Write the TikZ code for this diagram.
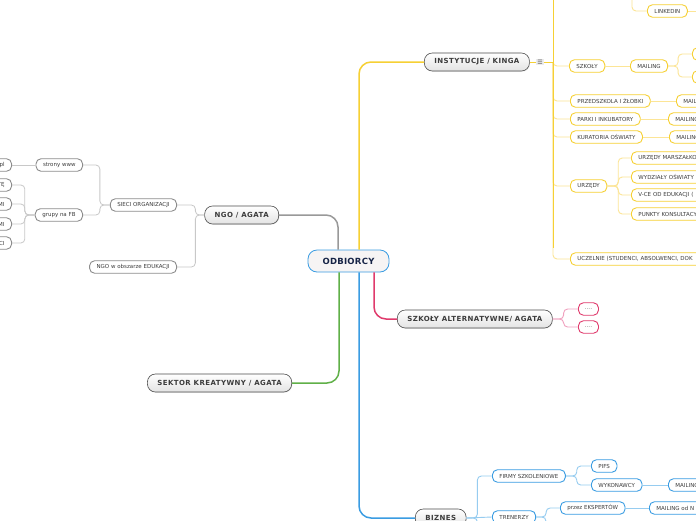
\documentclass[tikz,border=0pt]{standalone}
\usepackage{fontspec}
\setmainfont{DejaVu Sans}
\newfontfamily\topicfont[LetterSpace=6]{DejaVu Sans}
\newfontfamily\rootfont[LetterSpace=3]{DejaVu Sans}
\usetikzlibrary{positioning, shapes, shadows}

\definecolor{yelB}{RGB}{246,208,52}
\definecolor{yelL}{RGB}{252,229,150}
\definecolor{bluB}{RGB}{58,156,226}
\definecolor{bluL}{RGB}{150,204,240}
\definecolor{pinB}{RGB}{224,58,108}
\definecolor{pinL}{RGB}{240,160,190}
\definecolor{grnB}{RGB}{96,176,72}
\definecolor{gryB}{RGB}{140,140,140}
\definecolor{gryL}{RGB}{200,200,200}
\definecolor{txt}{RGB}{60,60,60}
\definecolor{navy}{RGB}{22,36,70}

\tikzset{
  root/.style={draw=bluB, line width=0.8pt, fill={rgb,255:red,246;green,244;blue,244},
    rounded corners=9pt, minimum height=22pt, minimum width=81pt, text=navy,
    font=\rootfont\fontsize{8.5}{10}\selectfont\bfseries},
  topic/.style={draw=gray!60!black, line width=0.6pt, top color=white, bottom color=gray!22,
    rounded corners=8pt, minimum height=18pt, inner xsep=10pt, text=txt,
    font=\topicfont\fontsize{7}{8}\selectfont\bfseries,
    drop shadow={opacity=0.15, shadow xshift=0.6pt, shadow yshift=-0.8pt}},
  leaf/.style={draw=#1, fill=white, line width=0.9pt, rounded corners=5pt,
    minimum height=12.5pt, inner xsep=7pt, inner ysep=1pt, text=txt,
    font=\fontsize{5.5}{6.5}\selectfont},
  cutR/.style={text width=#1, align=left},
  cutL/.style={text width=#1, align=right},
  brY/.style={draw=yelB, line width=1.5pt, rounded corners=12pt},
  brB/.style={draw=bluB, line width=1.5pt, rounded corners=12pt},
  brP/.style={draw=pinB, line width=1.5pt, rounded corners=12pt},
  brG/.style={draw=grnB, line width=1.5pt, rounded corners=12pt},
  brK/.style={draw=gray!80, line width=1.5pt, rounded corners=12pt},
  lnY/.style={draw=yelL, line width=0.9pt, rounded corners=4pt},
  lnB/.style={draw=bluL, line width=0.9pt, rounded corners=4pt},
  lnP/.style={draw=pinL, line width=0.9pt, rounded corners=4pt},
  lnG/.style={draw=gryL, line width=0.8pt, rounded corners=4pt}
}

\begin{document}
\begin{tikzpicture}[x=1pt, y=-1pt]

   \fill[white] (0,0) rectangle (696,520);
   \useasboundingbox (0,0) rectangle (696,520);

   % Main topics
      \node[root]                (odb)   at (348.5,261)  {ODBIORCY};
      \node[topic,anchor=west]   (inst)  at (424,62)     {INSTYTUCJE / KINGA};
      \node[topic,anchor=east]   (ngo)   at (279,215)    {NGO / AGATA};
      \node[topic,anchor=west]   (alt)   at (397,319)    {SZKOŁY ALTERNATYWNE/ AGATA};
      \node[topic,anchor=east]   (sek)   at (292,383)    {SEKTOR KREATYWNY / AGATA};
      \node[topic,anchor=west]   (biz)   at (415,518)    {BIZNES};
      \node[fill=gray!15, text=gray!70!black, inner sep=1pt, font=\fontsize{6}{6}\selectfont]
                                 (icon)  at (540,62)     {☰};

   % Main branches
      \draw[brY] ([xshift=10.5pt]odb.north) |- (inst.west);
      \draw[brK] ([xshift=-10.5pt]odb.north) |- (ngo.east);
      \draw[brP] ([xshift=25.5pt]odb.south) |- (alt.west);
      \draw[brG] ([xshift=-9.5pt]odb.south) |- (sek.east);
      \draw[brB] ([xshift=10.5pt]odb.south) |- (biz.west);

   % INSTYTUCJE / KINGA
      \node[leaf=yelB,anchor=west]             (szk)    at (569,66)   {SZKOŁY};
      \node[leaf=yelB,anchor=west]             (szkm)   at (630,66)   {MAILING};
      \node[leaf=yelB,anchor=west,minimum width=40pt] (szkm1) at (692,54) {};
      \node[leaf=yelB,anchor=west,minimum width=40pt] (szkm2) at (692,77) {};
      \node[leaf=yelB,anchor=west]             (przed)  at (570,101)  {PRZEDSZKOLA I ŻŁOBKI};
      \node[leaf=yelB,anchor=west]             (przm)   at (676,101)  {MAILING};
      \node[leaf=yelB,anchor=west]             (parki)  at (570,119)  {PARKI I INKUBATORY};
      \node[leaf=yelB,anchor=west]             (parm)   at (668,119)  {MAILING};
      \node[leaf=yelB,anchor=west]             (kur)    at (570,137)  {KURATORIA OŚWIATY};
      \node[leaf=yelB,anchor=west]             (kurm)   at (669,137)  {MAILING};
      \node[leaf=yelB,anchor=west]             (urz)    at (570,186)  {URZĘDY};
      \node[leaf=yelB,anchor=west,cutR=90pt]   (urz1)   at (631,158)  {URZĘDY MARSZAŁKO};
      \node[leaf=yelB,anchor=west,cutR=90pt]   (urz2)   at (631,177)  {WYDZIAŁY OŚWIATY};
      \node[leaf=yelB,anchor=west,cutR=90pt]   (urz3)   at (631,195)  {V-CE OD EDUKACJI (};
      \node[leaf=yelB,anchor=west,cutR=90pt]   (urz4)   at (631,214)  {PUNKTY KONSULTACY};
      \node[leaf=yelB,anchor=west,cutR=150pt]  (ucz)    at (570,259)  {UCZELNIE (STUDENCI, ABSOLWENCI, DOK};
      \node[leaf=yelB,anchor=west]             (lin)    at (647,11)   {LINKEDIN};
      \coordinate (ib)     at (553,62);
      \coordinate (instup) at (553,-10);
      \coordinate (ibend)  at (553,248);
      \coordinate (linup)  at (632,-10);
      \coordinate (linout) at (700,11);

      \foreach \c in {szk,przed,parki,kur,urz,ucz}
         \draw[lnY] (ib) |- (\c.west);
      \draw[yelB, line width=1pt] (inst.east) -- (icon.west);
      \draw[yelB, line width=1pt] (icon.east) -- (ib);
      \draw[yelB, line width=1pt] (instup) -- (ibend);
      \draw[lnY] (szk.east) -- (szkm.west);
      \foreach \c in {szkm1,szkm2}
         \draw[lnY] (szkm.east) -- ++(10,0) |- (\c.west);
      \draw[lnY] (przed.east) -- (przm.west);
      \draw[lnY] (parki.east) -- (parm.west);
      \draw[lnY] (kur.east) -- (kurm.west);
      \foreach \c in {urz1,urz2,urz3,urz4}
         \draw[lnY] (urz.east) -- ++(11,0) |- (\c.west);
      \draw[lnY] (linup) |- (lin.west);
      \draw[lnY] (lin.east) -- (linout);

   % NGO / AGATA
      \node[leaf=gryB,anchor=east]            (sieci)  at (177,205)  {SIECI ORGANIZACJI};
      \node[leaf=gryB,anchor=east]            (ngoedu) at (177,267)  {NGO w obszarze EDUKACJI};
      \node[leaf=gryB,anchor=east]            (www)    at (83,165)   {strony www};
      \node[leaf=gryB,anchor=east]            (fb)     at (83,215)   {grupy na FB};
      \node[leaf=gryB,anchor=east,cutL=50pt]  (wwwpl)  at (12,165)   {.pl};
      \node[leaf=gryB,anchor=east,cutL=50pt]  (fbA)    at (12,185)   {TĘ};
      \node[leaf=gryB,anchor=east,cutL=50pt]  (fbB)    at (12,204)   {MI};
      \node[leaf=gryB,anchor=east,cutL=50pt]  (fbC)    at (12,224)   {MI};
      \node[leaf=gryB,anchor=east,cutL=50pt]  (fbD)    at (12,243)   {CI};

      \foreach \c in {sieci,ngoedu}
         \draw[lnG] (ngo.west) -- ++(-9,0) |- (\c.east);
      \foreach \c in {www,fb}
         \draw[lnG] (sieci.west) -- ++(-10,0) |- (\c.east);
      \draw[lnG] (www.west) -- (wwwpl.east);
      \foreach \c in {fbA,fbB,fbC,fbD}
         \draw[lnG] (fb.west) -- ++(-10,0) |- (\c.east);

   % SZKOŁY ALTERNATYWNE
      \node[leaf=pinB,anchor=west,text=gray,minimum width=20pt,inner xsep=3pt,font=\fontsize{6}{6}\selectfont] (alt1) at (578,309) {....};
      \node[leaf=pinB,anchor=west,text=gray,minimum width=20pt,inner xsep=3pt,font=\fontsize{6}{6}\selectfont] (alt2) at (578,327) {....};
      \foreach \c in {alt1,alt2}
         \draw[lnP] (alt.east) -- ++(11,0) |- (\c.west);

   % BIZNES
      \node[leaf=bluB,anchor=west]            (firmy)  at (492,476)  {FIRMY SZKOLENIOWE};
      \node[leaf=bluB,anchor=west]            (tren)   at (492,517)  {TRENERZY};
      \node[leaf=bluB,anchor=west]            (pifs)   at (591,466)  {PIFS};
      \node[leaf=bluB,anchor=west]            (wyk)    at (591,485)  {WYKONAWCY};
      \node[leaf=bluB,anchor=west]            (wykm)   at (668,485)  {MAILING};
      \node[leaf=bluB,anchor=west]            (eksp)   at (560,508)  {przez EKSPERTÓW};
      \node[leaf=bluB,anchor=west,cutR=90pt]  (ekspm)  at (649,508)  {MAILING od N};
      \coordinate (bizlow)  at (478,540);
      \coordinate (trenlow) at (545,540);

      \draw[lnB] (biz.east) -- ++(11,0) |- (firmy.west);
      \draw[lnB] (biz.east) -- (tren.west);
      \draw[lnB] (biz.east) -- ++(11,0) -- (bizlow);
      \foreach \c in {pifs,wyk}
         \draw[lnB] (firmy.east) -- ++(11,0) |- (\c.west);
      \draw[lnB] (wyk.east) -- (wykm.west);
      \draw[lnB] (tren.east) -- ++(10,0) |- (eksp.west);
      \draw[lnB] (tren.east) -- ++(10,0) -- (trenlow);
      \draw[lnB] (eksp.east) -- (ekspm.west);

\end{tikzpicture}
\end{document}
